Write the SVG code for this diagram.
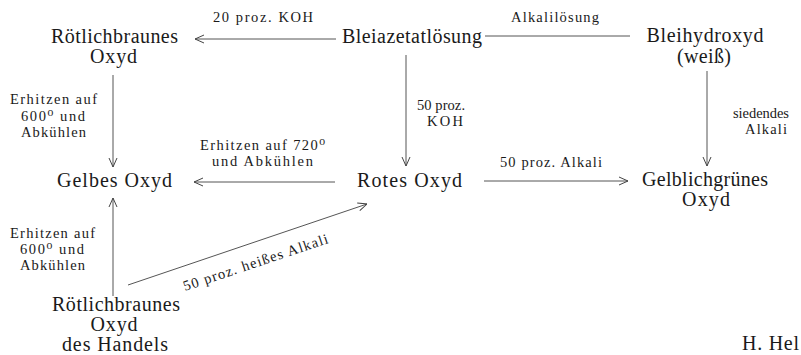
<svg xmlns="http://www.w3.org/2000/svg" width="801" height="355" viewBox="0 0 801 355">
<style>
  .n{font-family:"Liberation Serif","DejaVu Serif",serif;font-size:20px;fill:#1a1a1a;text-anchor:middle}
  .l{font-family:"Liberation Serif","DejaVu Serif",serif;font-size:14.5px;fill:#1a1a1a;text-anchor:middle}
  .c{stroke:#555;stroke-width:1;fill:none}
</style>
<defs>
  <marker id="a" viewBox="0 0 10 10" refX="10" refY="5" markerWidth="10" markerHeight="10" markerUnits="userSpaceOnUse" orient="auto">
    <path d="M1,1 L10,5 L1,9" fill="none" stroke="#444" stroke-width="1"/>
  </marker>
</defs>
<rect width="801" height="355" fill="#fff"/>

<g id="connectors">
  <line class="c" x1="336" y1="39" x2="195" y2="39" marker-end="url(#a)"/>
  <line class="c" x1="485" y1="36" x2="630" y2="36"/>
  <line class="c" x1="113" y1="75" x2="113" y2="167" marker-end="url(#a)"/>
  <line class="c" x1="406" y1="55" x2="406" y2="166" marker-end="url(#a)"/>
  <line class="c" x1="707" y1="71" x2="707" y2="166" marker-end="url(#a)"/>
  <line class="c" x1="335" y1="182" x2="194" y2="182" marker-end="url(#a)"/>
  <line class="c" x1="484" y1="181" x2="628" y2="181" marker-end="url(#a)"/>
  <line class="c" x1="113" y1="296" x2="113" y2="198" marker-end="url(#a)"/>
  <line class="c" x1="128" y1="285" x2="367" y2="204" marker-end="url(#a)"/>
</g>

<g id="labels">
  <text class="l" x="263" y="22" textLength="100" lengthAdjust="spacing">20 proz. KOH</text>
  <text class="l" x="555" y="22" textLength="88" lengthAdjust="spacing">Alkalilösung</text>
  <text class="l" x="53.5" y="104" textLength="87" lengthAdjust="spacing">Erhitzen auf</text>
  <text class="l" x="53" y="121" textLength="64" lengthAdjust="spacing">600⁰ und</text>
  <text class="l" x="53.5" y="137" textLength="65" lengthAdjust="spacing">Abkühlen</text>
  <text class="l" x="441" y="110" textLength="48" lengthAdjust="spacing">50 proz.</text>
  <text class="l" x="445" y="126" textLength="36" lengthAdjust="spacing">KOH</text>
  <text class="l" x="761" y="118" textLength="56" lengthAdjust="spacing">siedendes</text>
  <text class="l" x="766" y="134" textLength="42" lengthAdjust="spacing">Alkali</text>
  <text class="l" x="262.5" y="150" textLength="125" lengthAdjust="spacing">Erhitzen auf 720⁰</text>
  <text class="l" x="262.5" y="166" textLength="101" lengthAdjust="spacing">und Abkühlen</text>
  <text class="l" x="551" y="167" textLength="102" lengthAdjust="spacing">50 proz. Alkali</text>
  <text class="l" x="52.5" y="238" textLength="85" lengthAdjust="spacing">Erhitzen auf</text>
  <text class="l" x="52" y="254" textLength="64" lengthAdjust="spacing">600⁰ und</text>
  <text class="l" x="52.5" y="270" textLength="65" lengthAdjust="spacing">Abkühlen</text>
  <text class="l" transform="translate(257,267) rotate(-18.5)" x="0" y="0" textLength="152" lengthAdjust="spacing">50 proz. heißes Alkali</text>
</g>

<g id="n-roetlich">
  <text class="n" x="114.5" y="43" textLength="127" lengthAdjust="spacing">Rötlichbraunes</text>
  <text class="n" x="113.5" y="63" textLength="47" lengthAdjust="spacing">Oxyd</text>
</g>
<g id="n-bleiazetat">
  <text class="n" x="412" y="43" textLength="140" lengthAdjust="spacing">Bleiazetatlösung</text>
</g>
<g id="n-bleihydroxyd">
  <text class="n" x="705" y="42" textLength="117" lengthAdjust="spacing">Bleihydroxyd</text>
  <text class="n" x="704" y="63" textLength="54" lengthAdjust="spacing">(weiß)</text>
</g>
<g id="n-gelbes">
  <text class="n" x="114.5" y="187" textLength="115" lengthAdjust="spacing">Gelbes Oxyd</text>
</g>
<g id="n-rotes">
  <text class="n" x="409.5" y="187" textLength="105" lengthAdjust="spacing">Rotes Oxyd</text>
</g>
<g id="n-gelblichgruen">
  <text class="n" x="705" y="186" textLength="126" lengthAdjust="spacing">Gelblichgrünes</text>
  <text class="n" x="706" y="206" textLength="48" lengthAdjust="spacing">Oxyd</text>
</g>
<g id="n-handel">
  <text class="n" x="116" y="311" textLength="128" lengthAdjust="spacing">Rötlichbraunes</text>
  <text class="n" x="114" y="331" textLength="47" lengthAdjust="spacing">Oxyd</text>
  <text class="n" x="115" y="351" textLength="106" lengthAdjust="spacing">des Handels</text>
</g>
<g id="credit">
  <text class="n" x="742" y="350" style="text-anchor:start" textLength="57" lengthAdjust="spacing">H. Hel</text>
</g>
</svg>
